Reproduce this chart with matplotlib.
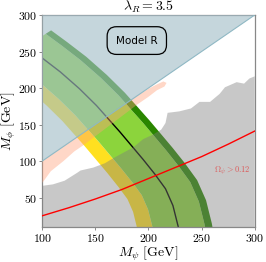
import numpy as np
import matplotlib
matplotlib.use('Agg')
import matplotlib.pyplot as plt

plt.rcParams['mathtext.fontset'] = 'cm'
plt.rcParams['font.family'] = ['DejaVu Serif']

# ---------------- data ----------------
# central (black) curve
center_x = [85, 100, 117, 135, 151, 162, 173, 184, 195, 206, 216, 223, 228, 231]
center_y = [257, 241, 222, 199, 176, 158, 140, 121, 102, 82, 62, 39, 10, -15]
# band edges
yin_x = [57.0, 72.0, 87.7, 104.0, 118.9, 129.2, 139.7, 150.5, 161.5, 171.9, 180.2, 185.5, 189.9, 192.9]
yin_y = [230.6, 214.6, 197.0, 176.1, 154.8, 137.9, 120.7, 102.1, 83.1, 64.1, 47.8, 30.3, 4.3, -20.7]
yg_x = [67.6, 82.6, 98.7, 115.7, 131.0, 141.5, 152.2, 163.1, 174.1, 184.8, 193.7, 199.6, 204.3, 207.3]
yg_y = [240.5, 224.5, 206.4, 184.7, 162.8, 145.5, 128.0, 109.2, 90.2, 70.8, 53.2, 33.6, 6.5, -18.5]
gi_x = [103.2, 118.2, 136.0, 155.1, 171.9, 183.3, 194.7, 205.8, 216.8, 228.1, 239.3, 247.4, 252.7, 255.7]
gi_y = [274.2, 258.2, 238.2, 213.9, 189.8, 171.0, 152.5, 133.3, 114.3, 93.6, 71.2, 44.6, 13.7, -11.3]
go_x = [108.3, 123.3, 141.4, 160.7, 177.7, 189.3, 200.7, 211.9, 222.9, 234.3, 245.8, 254.2, 259.6, 262.6]
go_y = [279.0, 263.0, 242.8, 218.0, 193.6, 174.7, 156.0, 136.7, 117.7, 96.9, 73.8, 46.2, 14.7, -10.3]

# excluded (gray) region upper boundary
gray_x = [100, 110, 121, 133, 136, 148, 159, 167, 186, 195, 204, 212, 216, 218, 229, 240, 248, 258,
          267, 272, 283, 290, 295, 300]
gray_y = [66, 68, 73, 84, 87, 91, 97, 104, 119, 130, 136, 143, 152, 166, 168, 172, 181, 181,
          192, 201, 208, 206, 213, 216]

# peach band
peach_up_x = [100, 190, 200, 208, 214, 217]
peach_up_y = [100, 190, 199, 205, 209, 207]
peach_lo_x = [215, 208, 200, 190, 180, 170, 160, 150, 140, 130, 120, 108, 100]
peach_lo_y = [202, 197, 188, 178, 167, 156, 145, 134, 123, 113, 100, 86, 70]

# relic density line
red_x = [100, 125, 150, 175, 200, 225, 250, 275, 300]
red_y = [25, 36, 48, 61, 76, 91, 106, 123, 141]

# triangle M_phi > M_psi
tri_x = [100, 300, 100]
tri_y = [100, 300, 300]

xticks = [100, 150, 200, 250, 300]
yticks = [50, 100, 150, 200, 250, 300]

# ---------------- drawing ----------------
fig = plt.figure(figsize=(2.66, 2.62), dpi=100)
ax = fig.add_axes([0.159, 0.1347, 0.7985, 0.808])


def band(ax_, x1, y1, x2, y2, **kw):
    xs = list(x1) + list(x2)[::-1]
    ys = list(y1) + list(y2)[::-1]
    ax_.fill(xs, ys, **kw)


band(ax, yin_x, yin_y, yg_x, yg_y, color='#ffe020', lw=0, zorder=1)
band(ax, yg_x, yg_y, gi_x, gi_y, color='#8cd43c', lw=0, zorder=1)
band(ax, gi_x, gi_y, go_x, go_y, color='#2a8600', lw=0, zorder=1)
ax.plot(center_x, center_y, color='black', lw=1.0, zorder=2)

gx = list(gray_x) + [300, 100]
gy = list(gray_y) + [0, 0]
ax.fill(gx, gy, color=(125/255, 125/255, 125/255), alpha=0.42, lw=0, zorder=3)

ax.fill(list(peach_up_x) + list(peach_lo_x), list(peach_up_y) + list(peach_lo_y),
        color='lightsalmon', alpha=0.42, lw=0, zorder=4)

ax.fill(tri_x, tri_y, color=(164/255, 190/255, 200/255), alpha=0.63, lw=0, zorder=5)
ax.plot(tri_x[:2], tri_y[:2], color='#8fb8c4', lw=0.8, zorder=5)

ax.plot(red_x, red_y, color='red', lw=1.0, zorder=6)

ax.text(189, 265, 'Model R', family='DejaVu Sans', fontsize=7.5, ha='center', va='center',
        zorder=7, bbox=dict(boxstyle='round,pad=0.85,rounding_size=0.9', fc='none', ec='black', lw=0.9))
ax.text(262, 86, r'$\Omega_{\psi} > 0.12$', color='#e04040', fontsize=6, ha='left', va='center',
        zorder=7, alpha=0.8)

ax.set_xlim(100, 300)
ax.set_ylim(10, 300)
ax.set_xticks(xticks)
ax.set_yticks(yticks)
ax.set_xticklabels([r'$%d$' % v for v in xticks], fontsize=8.5)
ax.set_yticklabels([r'$%d$' % v for v in yticks], fontsize=8.5)
ax.tick_params(direction='out', length=2, width=0.6, color='#777777', pad=1.5)
for s in ax.spines.values():
    s.set_color('#888888')
    s.set_linewidth(0.9)
ax.set_xlabel(r'$M_{\psi}\ [\mathrm{GeV}]$', fontsize=10)
ax.set_ylabel(r'$M_{\phi}\ [\mathrm{GeV}]$', fontsize=10)
ax.xaxis.set_label_coords(0.5, -0.085)
ax.yaxis.set_label_coords(-0.115, 0.5)
ax.set_title(r'$\lambda_R = 3.5$', fontsize=10, pad=1.5)

fig.savefig('out.png', dpi=100)
